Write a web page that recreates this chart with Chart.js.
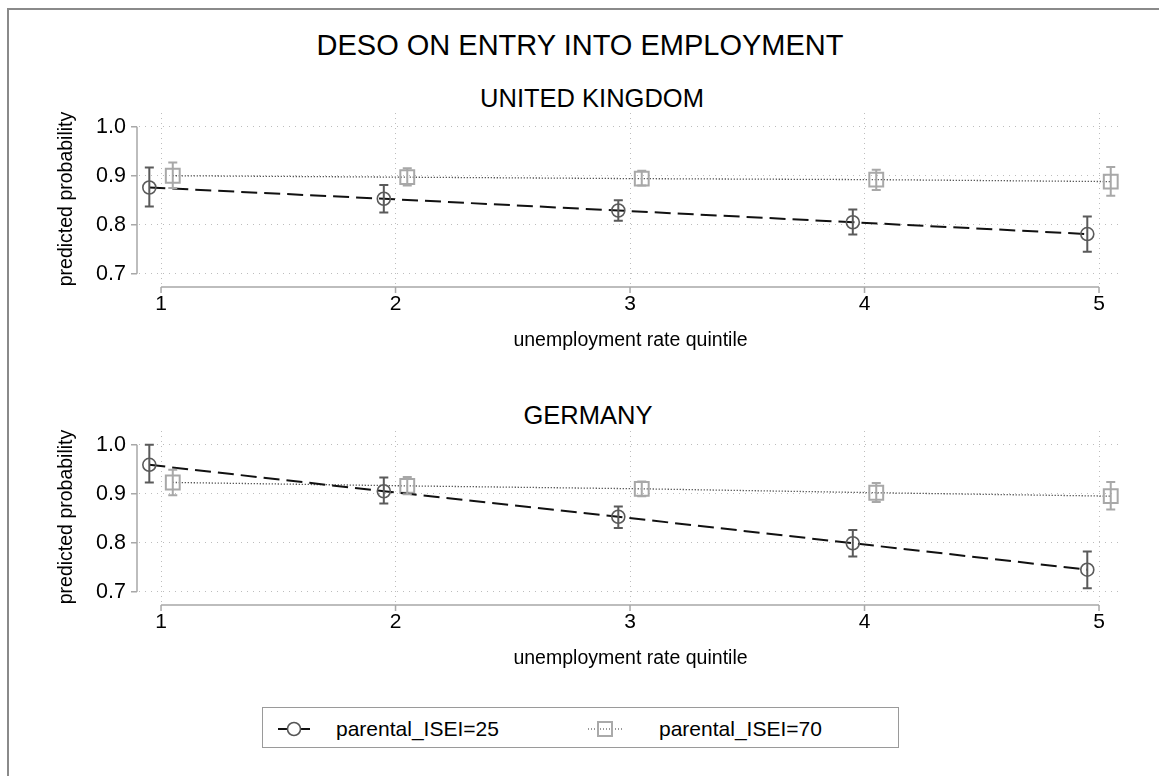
<!DOCTYPE html>
<html>
<head>
<meta charset="utf-8">
<script src="https://cdn.jsdelivr.net/npm/chart.js@4.4.1/dist/chart.umd.min.js"></script>
<style>
  html, body { margin: 0; padding: 0; background: #fff; }
  body { width: 1159px; height: 776px; overflow: hidden; position: relative;
         font-family: "Liberation Sans", Arial, Helvetica, sans-serif; color: #000; }
  #frame { position: absolute; left: 7px; top: 8px; width: 1200px; height: 820px;
           border-left: 2px solid #8a8a8a; border-top: 2px solid #8a8a8a; }
  .txt { position: absolute; left: 0; white-space: nowrap; line-height: 1; }
  #mainTitle { top: 31px; left: 580px; transform: translateX(-50%); font-size: 29px; }
  #ukTitle { top: 86px; left: 592px; transform: translateX(-50%); font-size: 25.5px; }
  #deTitle { top: 403px; left: 588px; transform: translateX(-50%); font-size: 25.5px; }
  .panel { position: absolute; left: 0; width: 1159px; }
  #legend { position: absolute; left: 262px; top: 707px; width: 637px; height: 41px;
            border: 1px solid #9a9a9a; box-sizing: border-box; }
  #legend svg { position: absolute; left: 0; top: 0; }
  .legText { position: absolute; top: 10px; font-size: 21px; line-height: 1; }
</style>
</head>
<body>
<div id="frame"></div>
<div id="mainTitle" class="txt">DESO ON ENTRY INTO EMPLOYMENT</div>
<div id="ukTitle" class="txt">UNITED KINGDOM</div>
<div id="deTitle" class="txt">GERMANY</div>

<div class="panel" style="top:0px;height:370px;"><canvas id="ukChart" width="1159" height="370"></canvas></div>
<div class="panel" style="top:318px;height:370px;"><canvas id="deChart" width="1159" height="370"></canvas></div>

<div id="legend">
  <svg width="637" height="41">
    <line x1="15" y1="21" x2="47" y2="21" stroke="#111" stroke-width="2"/>
    <circle cx="31" cy="21" r="6.5" fill="#fff" stroke="#555" stroke-width="1.6"/>
    <line x1="325" y1="21" x2="359" y2="21" stroke="#333" stroke-width="1.2" stroke-dasharray="1 2"/>
    <rect x="335" y="14" width="14" height="14" fill="none" stroke="#aaa" stroke-width="2"/>
  </svg>
  <div class="legText" style="left:73px;">parental_ISEI=25</div>
  <div class="legText" style="left:396px;">parental_ISEI=70</div>
</div>

<script>
// Unemployment-rate quintiles and axis ticks
const quintiles = [1, 2, 3, 4, 5];
const yTicks = [0.7, 0.8, 0.9, 1.0];
const seriesNames = ['parental_ISEI=25', 'parental_ISEI=70'];

// United Kingdom: predicted probability with 95% interval bounds
const ukLow = [0.876, 0.853, 0.829, 0.805, 0.781];
const ukLowLo = [0.837, 0.825, 0.808, 0.780, 0.745];
const ukLowHi = [0.917, 0.881, 0.850, 0.831, 0.817];
const ukHigh = [0.900, 0.897, 0.894, 0.892, 0.888];
const ukHighLo = [0.875, 0.880, 0.880, 0.871, 0.859];
const ukHighHi = [0.927, 0.915, 0.910, 0.912, 0.918];

// Germany: predicted probability with 95% interval bounds
const deLow = [0.959, 0.905, 0.853, 0.799, 0.745];
const deLowLo = [0.923, 0.880, 0.830, 0.772, 0.707];
const deLowHi = [1.000, 0.933, 0.874, 0.826, 0.782];
const deHigh = [0.923, 0.916, 0.910, 0.902, 0.895];
const deHighLo = [0.897, 0.899, 0.895, 0.883, 0.868];
const deHighHi = [0.949, 0.934, 0.925, 0.922, 0.924];

// horizontal dodge so the two groups' markers don't overlap
const dodge = 0.05;

Chart.defaults.font.family = '"Liberation Sans", Arial, Helvetica, sans-serif';
Chart.defaults.color = '#000';

// vertical confidence-interval whiskers with caps
const errorBars = {
  id: 'errorBars',
  afterDatasetsDraw(chart) {
    const { ctx, scales: { x, y } } = chart;
    chart.data.datasets.forEach((ds) => {
      if (!ds.ciLo) return;
      ctx.save();
      ctx.strokeStyle = ds.ciColor;
      ctx.lineWidth = 2;
      ctx.setLineDash([]);
      ds.data.forEach((pt, j) => {
        const px = x.getPixelForValue(pt.x);
        const y0 = y.getPixelForValue(ds.ciLo[j]);
        const y1 = y.getPixelForValue(ds.ciHi[j]);
        ctx.beginPath();
        ctx.moveTo(px, y0); ctx.lineTo(px, y1);
        ctx.moveTo(px - 4.5, y0); ctx.lineTo(px + 4.5, y0);
        ctx.moveTo(px - 4.5, y1); ctx.lineTo(px + 4.5, y1);
        ctx.stroke();
      });
      ctx.restore();
    });
  }
};

// axis lines that run only from the first to the last tick, with outward tick marks
const axisLines = {
  id: 'axisLines',
  beforeDatasetsDraw(chart) {
    const { ctx, chartArea, scales: { x, y } } = chart;
    ctx.save();
    ctx.strokeStyle = '#a8a8a8';
    ctx.lineWidth = 1.5;
    ctx.setLineDash([]);
    const ax = chartArea.left - 2;
    const ay = chartArea.bottom + 2;
    const yT = y.getPixelForValue(yTicks[yTicks.length - 1]);
    const yB = y.getPixelForValue(yTicks[0]);
    ctx.beginPath();
    ctx.moveTo(ax, yT); ctx.lineTo(ax, yB);
    yTicks.forEach(v => { const p = y.getPixelForValue(v); ctx.moveTo(ax - 6, p); ctx.lineTo(ax, p); });
    const xL = x.getPixelForValue(quintiles[0]);
    const xR = x.getPixelForValue(quintiles[quintiles.length - 1]);
    ctx.moveTo(xL, ay); ctx.lineTo(xR, ay);
    quintiles.forEach(v => { const p = x.getPixelForValue(v); ctx.moveTo(p, ay); ctx.lineTo(p, ay + 6); });
    ctx.stroke();
    ctx.restore();
  }
};

function makePanel(canvasId, low, lowLo, lowHi, high, highLo, highHi, topPad) {
  const lowPts = quintiles.map((q, i) => ({ x: q - dodge, y: low[i] }));
  const highPts = quintiles.map((q, i) => ({ x: q + dodge, y: high[i] }));
  return new Chart(document.getElementById(canvasId), {
    type: 'line',
    data: {
      datasets: [
        {
          label: seriesNames[0],
          data: lowPts,
          ciLo: lowLo, ciHi: lowHi, ciColor: '#5a5a5a',
          borderColor: '#111', borderWidth: 2, borderDash: [16, 7],
          pointStyle: 'circle', pointRadius: 6.5, pointBorderWidth: 1.6,
          pointBorderColor: '#5a5a5a', pointBackgroundColor: 'rgba(0,0,0,0)',
          tension: 0
        },
        {
          label: seriesNames[1],
          data: highPts,
          ciLo: highLo, ciHi: highHi, ciColor: '#a8a8a8',
          borderColor: '#222', borderWidth: 1.3, borderDash: [1, 2],
          pointStyle: 'rect', pointRadius: 9.8, pointBorderWidth: 2,
          pointBorderColor: '#a8a8a8', pointBackgroundColor: 'rgba(0,0,0,0)',
          tension: 0
        }
      ]
    },
    options: {
      responsive: false,
      animation: false,
      events: [],
      layout: { padding: { left: 0, right: 37, top: topPad, bottom: 0 } },
      plugins: { legend: { display: false }, tooltip: { enabled: false }, title: { display: false } },
      scales: {
        x: {
          type: 'linear', min: 0.906, max: 5.098,
          afterBuildTicks: s => { s.ticks = quintiles.map(v => ({ value: v })); },
          afterFit: s => { s.height = 85; },
          border: { display: false, dash: [1, 4] },
          grid: { color: '#bdbdbd', lineWidth: 1, drawTicks: false },
          ticks: { padding: 7, font: { size: 21 }, color: '#000', callback: v => String(v) },
          title: { display: true, text: 'unemployment rate quintile', font: { size: 19.5 },
                   color: '#000', padding: { top: 0, bottom: 18 } }
        },
        y: {
          type: 'linear', min: 0.677, max: 1.028,
          afterBuildTicks: s => { s.ticks = yTicks.map(v => ({ value: v })); },
          afterFit: s => { s.width = 139; },
          border: { display: false, dash: [1, 5] },
          grid: { color: '#bdbdbd', lineWidth: 1, drawTicks: false },
          ticks: { padding: 13, font: { size: 21.5 }, color: '#000', callback: v => v.toFixed(1) },
          title: { display: true, text: 'predicted probability', font: { size: 19.5 },
                   color: '#000', padding: { top: 55, bottom: 0 } }
        }
      }
    },
    plugins: [axisLines, errorBars]
  });
}

makePanel('ukChart', ukLow, ukLowLo, ukLowHi, ukHigh, ukHighLo, ukHighHi, 113);
makePanel('deChart', deLow, deLowLo, deLowHi, deHigh, deHighLo, deHighHi, 113);
</script>
</body>
</html>
